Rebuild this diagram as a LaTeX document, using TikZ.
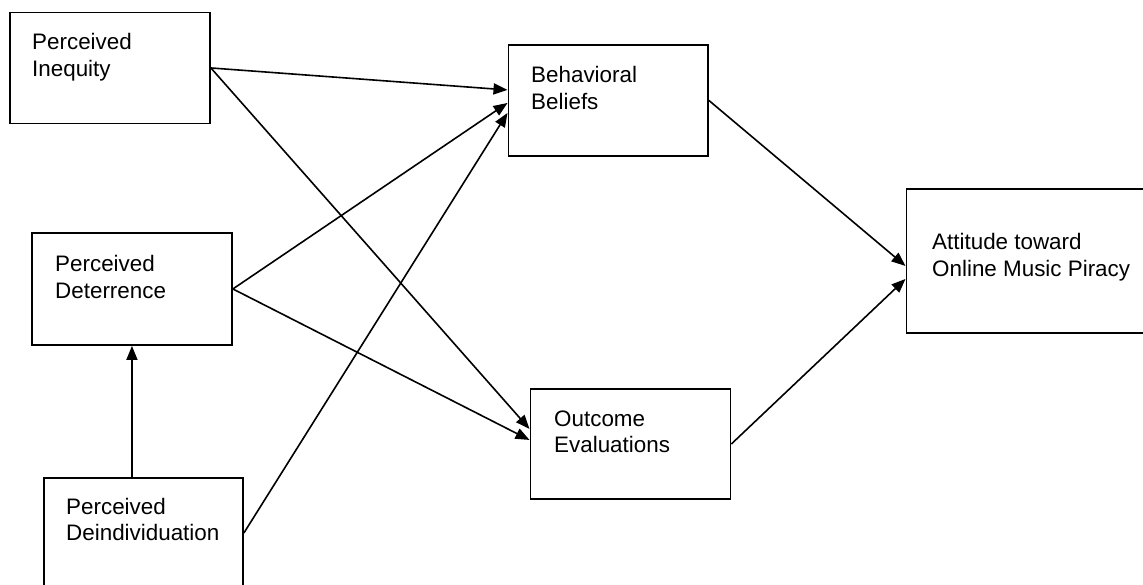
\documentclass[tikz,border=0pt]{standalone}
\usepackage{fontspec}
\setmainfont{Liberation Sans}
\usetikzlibrary{arrows.meta}
\tikzset{
  box/.style={draw=black, line width=1.9pt, fill=none, inner sep=0pt, anchor=north west},
  lbl/.style={anchor=base west, inner sep=0pt, align=left, font=\fontsize{22.4}{26.5}\selectfont},
  conn/.style={line width=1.6pt, -{Triangle[length=14pt,width=11pt]}},
}
\begin{document}
\begin{tikzpicture}[x=1pt,y=-1pt]
\useasboundingbox (0,0) rectangle (1143,584);
\begin{scope}
\clip (0,0) rectangle (1143,584);
% boxes
\node[box, minimum width=200pt, minimum height=111pt] (ineq) at (9,11.5) {};
\node[box, minimum width=199.5pt, minimum height=111pt] (bb) at (507.5,44) {};
\node[box, minimum width=200pt, minimum height=112pt] (det) at (31,232) {};
\node[box, minimum width=199pt, minimum height=110pt] (deind) at (43,477) {};
\node[box, minimum width=200pt, minimum height=110pt] (out) at (529.5,388) {};
\node[box, minimum width=240pt, minimum height=144pt] (att) at (905.5,188) {};
\end{scope}
% texts (anchor at baseline of last line)
\node[lbl] (ineqt) at (32,76.3) {Perceived\\Inequity};
\node[lbl] (bbt) at (531,109.3) {Behavioral\\Beliefs};
\node[lbl] (dett) at (55,298.3) {Perceived\\Deterrence};
\node[lbl] (deindt) at (66,540.8) {Perceived\\Deindividuation};
\node[lbl] (outt) at (554,452.7) {Outcome\\Evaluations};
\node[lbl] (attt) at (932,276) {Attitude toward\\Online Music Piracy};
% connectors
\draw[conn] (ineq.east) -- ([yshift=10.5pt]bb.west);
\draw[conn] (ineq.east) -- ([yshift=15pt]out.west);
\draw[conn] (det.east) -- ([yshift=-2.5pt]bb.west);
\draw[conn] (det.east) -- ([yshift=4pt]out.west);
\draw[conn] (deind.east) -- ([yshift=-12.5pt]bb.west);
\draw[conn] ([xshift=-11.5pt]deind.north) -- (det.south);
\draw[conn] (bb.east) -- ([yshift=-5pt]att.west);
\draw[conn] (out.east) -- ([yshift=-18pt]att.west);
\end{tikzpicture}
\end{document}
